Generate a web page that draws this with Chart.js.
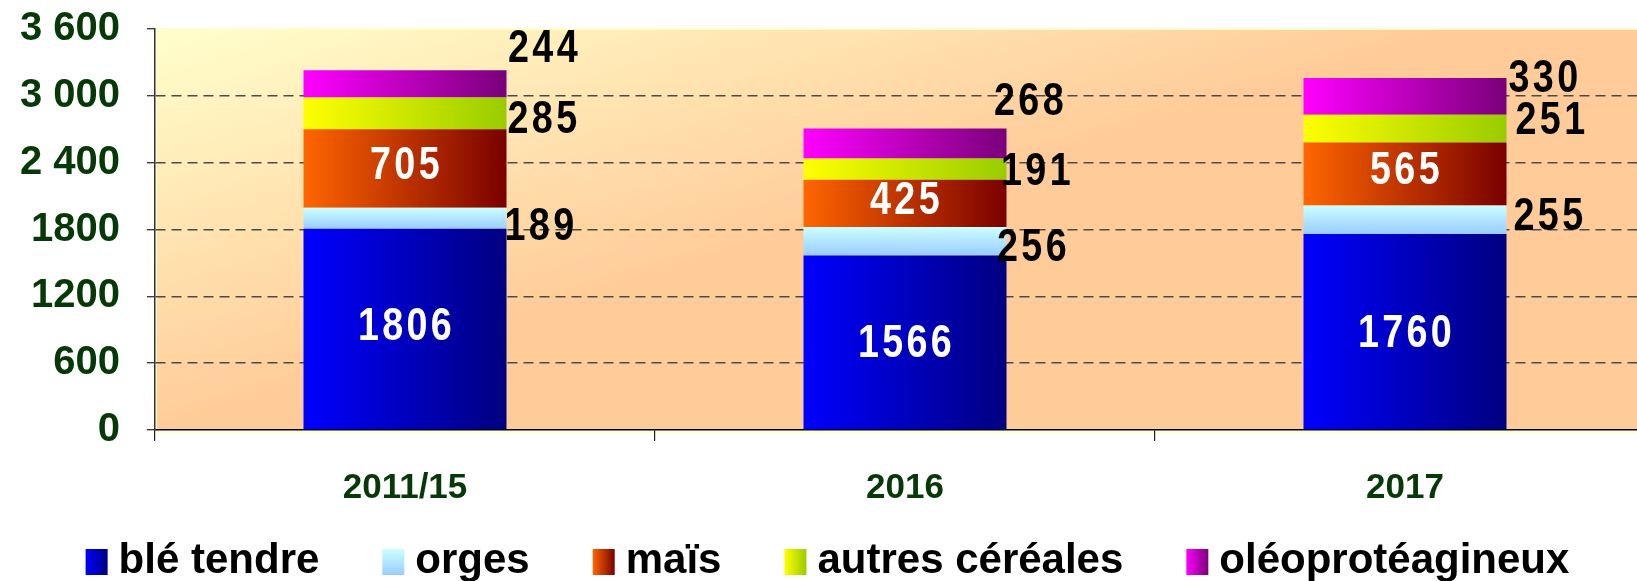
<!DOCTYPE html>
<html lang="fr">
<head>
<meta charset="utf-8">
<title>Surfaces par culture</title>
<script src="https://cdn.jsdelivr.net/npm/chart.js@4.4.1/dist/chart.umd.min.js"></script>
<style>
  html, body { margin: 0; padding: 0; background: #fff; overflow: hidden; }
  #wrap { position: relative; width: 1655px; height: 581px; }
</style>
</head>
<body>
<div id="wrap"><canvas id="chart"></canvas></div>
<script>
// données
const categories = ['2011/15', '2016', '2017'];
const bleTendre = [1806, 1566, 1760];
const orges = [189, 256, 255];
const mais = [705, 425, 565];
const autresCereales = [285, 191, 251];
const oleoproteagineux = [244, 268, 330];
const yTickLabels = ['0', '600', '1200', '1800', '2 400', '3 000', '3 600'];

const FONT = '"Liberation Sans", Arial, Helvetica, sans-serif';
const GREEN = '#073807';
const BAR_FRACTION = 0.406;

// dégradés : [gauche/haut, droite/bas, vertical ?]
const fills = {
  'blé tendre': ['#0000ff', '#000080', false],
  'orges': ['#ccffff', '#99ccff', true],
  'maïs': ['#ff6600', '#7a0000', false],
  'autres céréales': ['#ffff00', '#99cc00', false],
  'oléoprotéagineux': ['#ff00ff', '#7a007a', false]
};

// étiquettes : inside = blanc centré, sinon noir à droite de la barre
// dx = décalage depuis le bord droit, dy = depuis le centre du segment
const labelStyle = {
  'blé tendre': { inside: true, dy: [-1.5, 1.5, 2.5] },
  'orges': { inside: false, dx: [33, 25.5, 42], dy: [9, 7.5, -2.5] },
  'maïs': { inside: true, dy: [-2.5, -2.5, -3] },
  'autres céréales': { inside: false, dx: [36, 29.5, 44], dy: [7, 3.5, -7.5] },
  'oléoprotéagineux': { inside: false, dx: [36.5, 22.5, 37], dy: [-34.5, -41.5, -16.5] }
};

function barFill(name) {
  const [c1, c2, vertical] = fills[name];
  return function(ctx) {
    const chart = ctx.chart;
    if (ctx.dataIndex === undefined || !chart.chartArea) return c1;
    let g;
    if (vertical) {
      const ys = chart.scales.y;
      let base = 0;
      for (let d = 0; d < ctx.datasetIndex; d++) base += chart.data.datasets[d].data[ctx.dataIndex];
      g = chart.ctx.createLinearGradient(0, ys.getPixelForValue(base + ctx.raw), 0, ys.getPixelForValue(base));
    } else {
      const xs = chart.scales.x;
      const cx = xs.getPixelForValue(ctx.dataIndex);
      const half = xs.width / categories.length * BAR_FRACTION / 2;
      g = chart.ctx.createLinearGradient(cx - half, 0, cx + half, 0);
    }
    g.addColorStop(0, c1);
    g.addColorStop(1, c2);
    return g;
  };
}

function makeDataset(name, data) {
  return {
    label: name,
    data: data,
    backgroundColor: barFill(name),
    borderWidth: 0,
    categoryPercentage: 1,
    barPercentage: BAR_FRACTION
  };
}

// fond de la zone de tracé (jaune pâle -> pêche)
const plotBackground = {
  id: 'plotBackground',
  afterLayout(chart) {
    // les étiquettes de l'axe x débordent dans la zone de légende : pas de coupure
    const xs = chart.scales.x;
    xs.bottom = chart.height;
    xs.height = xs.bottom - xs.top;
  },
  beforeDraw(chart) {
    const { ctx, chartArea: a } = chart;
    const g = ctx.createLinearGradient(a.left, a.top, a.left + 112, a.top + 365);
    g.addColorStop(0, '#ffffcc');
    g.addColorStop(1, '#ffcc99');
    ctx.save();
    ctx.fillStyle = g;
    ctx.fillRect(a.left, a.top, a.right - a.left, a.bottom - a.top);
    ctx.strokeStyle = '#ffffcc';
    ctx.lineWidth = 2;
    ctx.strokeRect(a.left + 1, a.top, a.right - a.left, a.bottom - a.top + 2);
    ctx.restore();
  }
};

// valeurs sur les barres
const barLabels = {
  id: 'barLabels',
  afterDatasetsDraw(chart) {
    const ctx = chart.ctx;
    ctx.save();
    ctx.font = 'bold 46px ' + FONT;
    ctx.textAlign = 'center';
    ctx.textBaseline = 'middle';
    if ('letterSpacing' in ctx) ctx.letterSpacing = '4px';
    chart.data.datasets.forEach((ds, di) => {
      const st = labelStyle[ds.label];
      chart.getDatasetMeta(di).data.forEach((bar, i) => {
        const yc = (bar.y + bar.base) / 2 + st.dy[i];
        const xc = st.inside ? bar.x : bar.x + bar.width / 2 + st.dx[i];
        ctx.save();
        ctx.translate(xc + 1.5, yc);
        ctx.scale(0.82, 1);
        ctx.fillStyle = st.inside ? '#ffffff' : '#000000';
        ctx.fillText(String(ds.data[i]), 0, 0);
        ctx.restore();
      });
    });
    ctx.restore();
  }
};

// carrés de légende en dégradé
const legendBoxes = {
  id: 'legendBoxes',
  afterDraw(chart) {
    const legend = chart.legend;
    if (!legend || !legend.legendHitBoxes) return;
    const ctx = chart.ctx;
    const pad = legend.options.labels.padding;
    const top = legend.top + pad + 21 + 1 - 13;
    legend.legendItems.forEach((item, i) => {
      const hit = legend.legendHitBoxes[i];
      const [c1, c2, vertical] = fills[item.text];
      const g = vertical
        ? ctx.createLinearGradient(0, top, 0, top + 26)
        : ctx.createLinearGradient(hit.left, 0, hit.left + 22, 0);
      g.addColorStop(0, c1);
      g.addColorStop(1, c2);
      ctx.fillStyle = g;
      ctx.fillRect(hit.left, top, 22, 26);
    });
  }
};

const config = {
  type: 'bar',
  data: {
    labels: categories,
    datasets: [
      makeDataset('blé tendre', bleTendre),
      makeDataset('orges', orges),
      makeDataset('maïs', mais),
      makeDataset('autres céréales', autresCereales),
      makeDataset('oléoprotéagineux', oleoproteagineux)
    ]
  },
  options: {
    responsive: true,
    maintainAspectRatio: false,
    animation: false,
    layout: { padding: { top: 29, left: 0, right: 0, bottom: 0 } },
    scales: {
      x: {
        stacked: true,
        offset: true,
        grid: {
          offset: true,
          drawOnChartArea: false,
          tickLength: 11,
          color: '#222',
          lineWidth: 1.2
        },
        border: { color: '#000', width: 1.5 },
        ticks: {
          color: GREEN,
          font: { family: FONT, size: 35, weight: 'bold' },
          padding: 26,
          maxRotation: 0,
          autoSkip: false
        },
        afterFit(scale) { scale.height = 47; }
      },
      y: {
        stacked: true,
        min: 0,
        max: 3600,
        ticks: {
          stepSize: 600,
          padding: 27,
          color: GREEN,
          font: { family: FONT, size: 40, weight: 'bold' },
          callback: (value, index) => yTickLabels[index]
        },
        grid: {
          color: c => (c.tick && (c.tick.value === 0 || c.tick.value === 3600)) ? 'rgba(0,0,0,0)' : '#4a4a4a',
          lineWidth: 1.4,
          tickLength: 8,
          tickColor: '#333',
          tickWidth: 1.3,
          tickBorderDash: []
        },
        border: { color: '#333', width: 1.5, dash: [10, 6] },
        afterFit(scale) {
          scale.width = 155;
          scale.paddingTop = 0;
          scale.paddingBottom = 0;
        }
      }
    },
    plugins: {
      legend: {
        position: 'bottom',
        maxHeight: 104,
        labels: {
          color: '#000',
          font: { family: FONT, size: 42, weight: 'bold' },
          boxWidth: 12,
          boxHeight: 26,
          padding: 63,
          generateLabels(chart) {
            return Chart.defaults.plugins.legend.labels.generateLabels(chart).map(l =>
              Object.assign(l, { fillStyle: 'rgba(0,0,0,0)', strokeStyle: 'rgba(0,0,0,0)', lineWidth: 0 }));
          }
        }
      },
      tooltip: { enabled: false }
    }
  },
  plugins: [plotBackground, barLabels, legendBoxes]
};

new Chart(document.getElementById('chart'), config);
</script>
</body>
</html>
